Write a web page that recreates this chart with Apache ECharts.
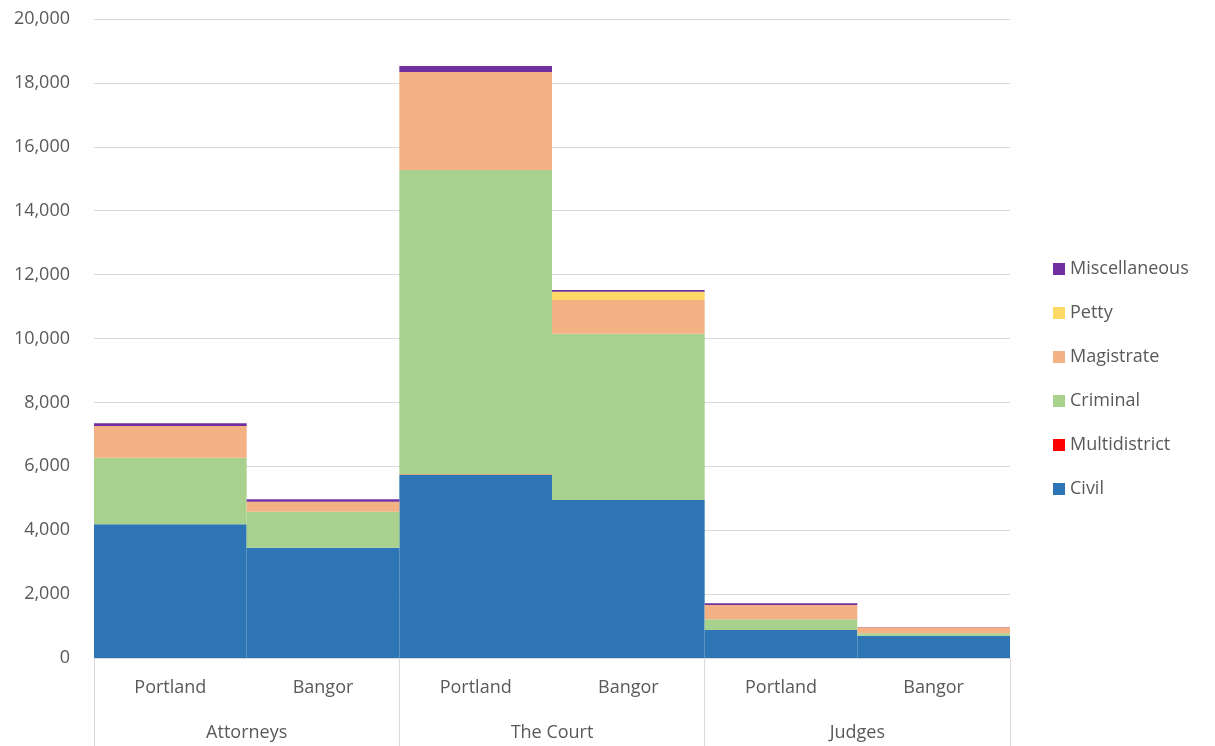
<!DOCTYPE html>
<html>
<head>
<meta charset="utf-8">
<script src="https://cdn.jsdelivr.net/npm/echarts@6/dist/echarts.min.js"></script>
<style>html,body{margin:0;padding:0;background:#fff;}#c{width:1215px;height:746px;}</style>
</head>
<body>
<div id="c"></div>
<script>
var subCategories = ['Portland', 'Bangor', 'Portland', 'Bangor', 'Portland', 'Bangor'];
var groups = ['Attorneys', 'The Court', 'Judges'];
var civil = [4190, 3450, 5730, 4945, 876, 699];
var multidistrict = [0, 0, 12, 0, 0, 0];
var criminal = [2080, 1130, 9528, 5205, 335, 73];
var magistrate = [990, 310, 3070, 1055, 448, 188];
var petty = [0, 0, 0, 260, 0, 0];
var miscellaneous = [85, 80, 190, 53, 52, 10];
var seriesNames = ['Civil', 'Multidistrict', 'Criminal', 'Magistrate', 'Petty', 'Miscellaneous'];
var seriesData = [civil, multidistrict, criminal, magistrate, petty, miscellaneous];
var colors = ['#2E75B6', '#FF0000', '#A9D18E', '#F4B183', '#FFD966', '#7030A0'];

var FONT = 'Open Sans';
var TXT = '#595959';
var chart = echarts.init(document.getElementById('c'), null, {renderer: 'canvas'});
chart.setOption({
  animation: false,
  textStyle: {fontFamily: FONT},
  grid: {left: 94, right: 205, top: 19, bottom: 88, containLabel: false},
  legend: {
    orient: 'vertical', left: 1048, top: 255,
    data: seriesNames.slice().reverse(),
    icon: 'rect', itemWidth: 12, itemHeight: 12, itemGap: 26,
    textStyle: {fontFamily: FONT, fontSize: 18, color: TXT}
  },
  xAxis: [{
    type: 'category', data: subCategories, position: 'bottom',
    axisLine: {show: true, lineStyle: {color: '#d9d9d9', width: 1}},
    axisTick: {show: false},
    axisLabel: {fontFamily: FONT, fontSize: 18, color: TXT, margin: 21, interval: 0}
  }, {
    type: 'category', data: groups, position: 'bottom',
    axisLine: {show: false},
    axisTick: {show: true, length: 90, lineStyle: {color: '#d9d9d9', width: 1}},
    axisLabel: {fontFamily: FONT, fontSize: 18, color: TXT, margin: 66, interval: 0}
  }],
  yAxis: {
    type: 'value', min: 0, max: 20000, interval: 2000,
    axisLine: {show: false}, axisTick: {show: false},
    splitLine: {lineStyle: {color: '#d9d9d9', width: 1}},
    axisLabel: {fontFamily: FONT, fontSize: 18, color: TXT, margin: 24,
      formatter: function (v) { return v.toLocaleString('en-US'); }}
  },
  series: seriesNames.map(function (n, i) {
    return {
      name: n, type: 'bar', stack: 'total', xAxisIndex: 0,
      barCategoryGap: 0, barWidth: '100%',
      itemStyle: {color: colors[i]},
      data: seriesData[i]
    };
  })
});
</script>
</body>
</html>
